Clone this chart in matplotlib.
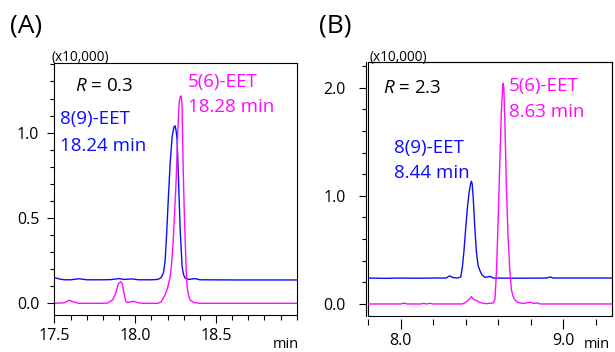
import numpy as np
import matplotlib
matplotlib.use("Agg")
import matplotlib.pyplot as plt
from matplotlib.ticker import MultipleLocator, FixedLocator
from matplotlib.patches import Rectangle

plt.rcParams['font.family'] = ['Open Sans', 'DejaVu Sans']
plt.rcParams['mathtext.fontset'] = 'custom'
plt.rcParams['mathtext.it'] = 'Open Sans:italic'
plt.rcParams['mathtext.rm'] = 'Open Sans'

BLUE = '#0c0cff'
MAG = '#ff0aff'

# panel A: R = 0.3 (intensity x10,000)
tA_blue = [17.50, 17.53, 17.56, 17.60, 17.65, 17.70, 17.80, 17.85, 17.90, 17.93,
           17.98, 18.02, 18.10, 18.14, 18.16, 18.175, 18.185, 18.195, 18.205, 18.216,
           18.228, 18.240, 18.247, 18.253, 18.259, 18.268, 18.278, 18.290, 18.300,
           18.310, 18.33, 18.37, 18.40, 18.60, 19.00]
yA_blue = [0.150, 0.143, 0.138, 0.138, 0.144, 0.138, 0.138, 0.139, 0.145, 0.140,
           0.143, 0.138, 0.138, 0.140, 0.150, 0.180, 0.250, 0.420, 0.620, 0.820,
           0.975, 1.035, 1.040, 1.010, 0.960, 0.720, 0.430, 0.215, 0.165,
           0.147, 0.140, 0.145, 0.138, 0.137, 0.137]
tA_mag = [17.50, 17.56, 17.59, 17.62, 17.65, 17.80, 17.83, 17.86, 17.88, 17.895,
          17.91, 17.92, 17.93, 17.94, 17.95, 17.97, 17.99, 18.02, 18.05, 18.14,
          18.16, 18.185, 18.20, 18.216, 18.225, 18.235, 18.245, 18.253, 18.265, 18.272,
          18.278, 18.285, 18.290, 18.296, 18.303, 18.309, 18.315, 18.321, 18.33, 18.34,
          18.36, 18.40, 19.00]
yA_mag = [0.000, 0.003, 0.018, 0.008, 0.000, 0.000, 0.002, 0.020, 0.060, 0.115,
          0.127, 0.115, 0.060, 0.015, 0.005, 0.008, 0.012, 0.003, 0.000, 0.000,
          0.008, 0.050, 0.090, 0.156, 0.230, 0.370, 0.560, 0.720, 1.050, 1.180,
          1.210, 1.215, 1.150, 0.820, 0.550, 0.370, 0.200, 0.097, 0.045, 0.020,
          0.005, 0.000, 0.000]

# panel B: R = 2.3
tB_blue = [7.80, 7.90, 8.00, 8.10, 8.20, 8.28, 8.30, 8.32, 8.35, 8.37,
           8.38, 8.39, 8.40, 8.41, 8.42, 8.43, 8.435, 8.44, 8.446, 8.456,
           8.466, 8.476, 8.487, 8.50, 8.52, 8.55, 8.57, 8.70, 8.90, 8.92,
           8.94, 9.10, 9.30]
yB_blue = [0.240, 0.237, 0.240, 0.238, 0.240, 0.240, 0.260, 0.245, 0.240, 0.250,
           0.350, 0.500, 0.700, 0.880, 1.020, 1.110, 1.135, 1.110, 0.990, 0.710,
           0.480, 0.360, 0.310, 0.270, 0.245, 0.255, 0.240, 0.238, 0.240, 0.250,
           0.240, 0.240, 0.240]
tB_mag = [7.80, 8.00, 8.02, 8.04, 8.12, 8.14, 8.16, 8.18, 8.20, 8.30,
          8.38, 8.40, 8.42, 8.435, 8.45, 8.465, 8.48, 8.50, 8.53, 8.57,
          8.58, 8.59, 8.60, 8.61, 8.62, 8.63, 8.635, 8.641, 8.651, 8.661,
          8.672, 8.682, 8.692, 8.702, 8.72, 8.75, 8.80, 8.82, 8.84, 8.86, 9.30]
yB_mag = [0.000, 0.000, 0.008, 0.000, 0.000, 0.005, 0.000, 0.006, 0.000, 0.000,
          0.000, 0.015, 0.040, 0.068, 0.040, 0.035, 0.020, 0.008, 0.003, 0.010,
          0.040, 0.310, 0.780, 1.300, 1.790, 2.040, 2.000, 1.700, 1.080, 0.620,
          0.310, 0.130, 0.070, 0.040, 0.015, 0.005, 0.015, 0.005, 0.010, 0.000, 0.000]

fig = plt.figure(figsize=(6.15, 3.52), dpi=100)
axA = fig.add_axes([0.0886, 0.105, 0.394, 0.716])
axB = fig.add_axes([0.5989, 0.1023, 0.3958, 0.7216])

# pixel position (from top-left) -> figure fraction
def ft(x, y):
    return x / 615, 1 - y / 352

TS = 11.5   # tick label size
AS = 13.5   # annotation size

# ---- A ----
axA.plot(tA_blue, yA_blue, color=BLUE, lw=1.0)
axA.plot(tA_mag, yA_mag, color=MAG, lw=1.0)
axA.set_xlim(17.5, 19.0)
axA.set_ylim(-0.0686, 1.408)
axA.xaxis.set_major_locator(FixedLocator([17.5, 18.0, 18.5]))
axA.xaxis.set_minor_locator(MultipleLocator(0.1))
axA.yaxis.set_major_locator(FixedLocator([0.0, 0.5, 1.0]))
axA.yaxis.set_minor_locator(MultipleLocator(0.1))
axA.set_xticklabels(['17.5', '18.0', '18.5'])
axA.set_yticklabels(['0.0', '0.5', '1.0'])
axA.tick_params(axis='y', which='major', length=5, width=0.8, pad=6, labelsize=TS)
axA.tick_params(axis='y', which='minor', length=3, width=0.8)
axA.tick_params(axis='x', which='major', length=6, width=0.8, pad=3, labelsize=TS)
axA.tick_params(axis='x', which='minor', length=3.5, width=0.8)
for s in axA.spines.values():
    s.set_linewidth(0.8)

fig.text(*ft(75, 86), r'$R$ = 0.3', fontsize=AS, va='center')
fig.text(*ft(60, 119), '8(9)-EET', color=BLUE, fontsize=AS, va='center')
fig.text(*ft(60, 146), '18.24 min', color=BLUE, fontsize=AS, va='center')
fig.text(*ft(188, 82), '5(6)-EET', color=MAG, fontsize=AS, va='center')
fig.text(*ft(188, 107), '18.28 min', color=MAG, fontsize=AS, va='center')

# ---- B ----
axB.plot(tB_blue, yB_blue, color=BLUE, lw=1.0)
axB.plot(tB_mag, yB_mag, color=MAG, lw=1.0)
axB.set_xlim(7.8, 9.3)
axB.set_ylim(-0.111, 2.237)
axB.xaxis.set_major_locator(FixedLocator([8.0, 9.0]))
axB.xaxis.set_minor_locator(MultipleLocator(0.2))
axB.yaxis.set_major_locator(FixedLocator([0.0, 1.0, 2.0]))
axB.yaxis.set_minor_locator(MultipleLocator(0.2))
axB.set_xticklabels(['8.0', '9.0'])
axB.set_yticklabels(['0.0', '1.0', '2.0'])
axB.spines['left'].set_position(('outward', 2))
axB.spines['bottom'].set_position(('outward', 2))
axB.spines['bottom'].set_visible(False)
for s in axB.spines.values():
    s.set_linewidth(0.8)
axB.add_patch(Rectangle((0, 0), 1, 1, transform=axB.transAxes, fill=False,
                        lw=0.8, ec='black', clip_on=False))
axB.tick_params(axis='y', which='major', length=5, width=0.8, pad=9, labelsize=TS)
axB.tick_params(axis='y', which='minor', length=3, width=0.8)
axB.tick_params(axis='x', which='major', length=7, width=0.8, pad=3, labelsize=TS)
axB.tick_params(axis='x', which='minor', length=4, width=0.8)

fig.text(*ft(383, 88), r'$R$ = 2.3', fontsize=AS, va='center')
fig.text(*ft(394, 148), '8(9)-EET', color=BLUE, fontsize=AS, va='center')
fig.text(*ft(394, 173), '8.44 min', color=BLUE, fontsize=AS, va='center')
fig.text(*ft(509, 86), '5(6)-EET', color=MAG, fontsize=AS, va='center')
fig.text(*ft(509, 112), '8.63 min', color=MAG, fontsize=AS, va='center')

for lab, xl, xs, xm in [('(A)', 10, 51, 273), ('(B)', 319, 369, 584)]:
    fig.text(*ft(xl, 26), lab, fontsize=19, va='center', ha='left')
    fig.text(*ft(xs, 57), '(x10,000)', fontsize=9.8, va='center', ha='left')
    fig.text(*ft(xm, 344), 'min', fontsize=10.5, va='center', ha='left')

fig.savefig('out.png', dpi=100)
